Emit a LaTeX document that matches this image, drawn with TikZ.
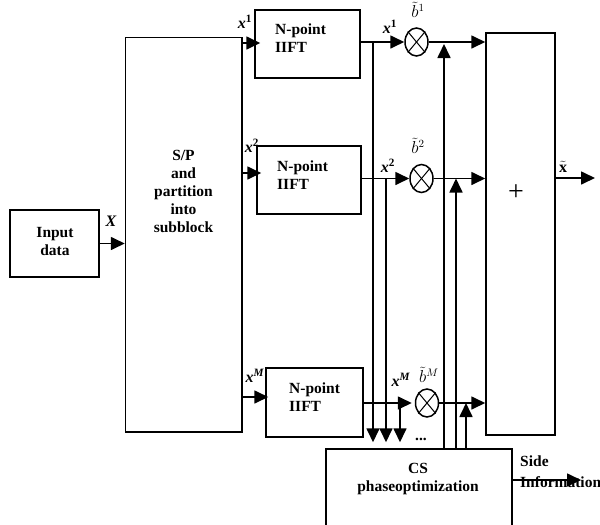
\documentclass[tikz,border=0pt]{standalone}
\usepackage{amsmath}
\usepackage{fontspec}
\setmainfont{Liberation Serif}
\usetikzlibrary{arrows.meta,shapes.geometric}
\newcommand{\vx}[1]{\textbf{\textit{x}}\textsuperscript{\textbf{#1}}}
\newcommand{\vb}[1]{$\tilde{b}^{#1}$}
\begin{document}
\begin{tikzpicture}[x=1pt,y=-1pt,
  box/.style={draw, line width=1.5pt, inner sep=0pt},
  txt/.style={font=\fontsize{15.5}{18}\selectfont\bfseries, inner sep=0pt},
  lab/.style={font=\fontsize{16}{16}\selectfont, inner sep=0pt},
  arr/.style={line width=1.7pt, -{Triangle[length=14pt,width=13pt]}},
  mult/.style={draw, ellipse, line width=1.5pt, minimum width=23pt, minimum height=28pt, inner sep=0pt}]
\clip (0,0) rectangle (600,525);
% blocks
\node[box, minimum width=89pt, minimum height=67pt] (in) at (54.5,243.5) {};
\node[txt, align=center] (intx) at (55,241) {Input\\data};
\node[box, minimum width=116.5pt, minimum height=394.5pt] (sp) at (183.75,234.75) {};
\node[txt, align=center] (sptx) at (183.5,191) {S/P\\and\\partition\\into\\subblock};
\node[box, minimum width=105pt, minimum height=68pt] (f1) at (307.5,44) {};
\node[box, minimum width=104pt, minimum height=68pt] (f2) at (309,180) {};
\node[box, minimum width=97pt, minimum height=69pt] (f3) at (314.5,402.5) {};
\node[txt, align=left, anchor=west] (f1t) at (275,38) {N-point\\IIFT};
\node[txt, align=left, anchor=west] (f2t) at (277,175) {N-point\\IIFT};
\node[txt, align=left, anchor=west] (f3t) at (289,397) {N-point\\IIFT};
\node[box, minimum width=69pt, minimum height=402pt] (pl) at (520.5,234) {};
\node[font=\fontsize{28}{28}\selectfont, inner sep=0pt] (plt) at (516,193) {+};
\node[box, minimum width=186pt, minimum height=100pt] (cs) at (419,499) {};
\node[txt, align=center] (cst) at (418,479) {CS\\phaseoptimization};
% multipliers
\node[mult] (m1) at (416.5,42) {};
\node[mult] (m2) at (421.5,178.5) {};
\node[mult] (m3) at (427,403) {};
\foreach \m in {m1,m2,m3}{
  \draw[line width=1pt] (\m.north west) -- (\m.south east);
  \draw[line width=1pt] (\m.north east) -- (\m.south west);
}
% coordinates
\coordinate (in1) at (242,43);
\coordinate (in2) at (242,173);
\coordinate (in3) at (242,397);
\coordinate (j1) at (373,42);
\coordinate (j2) at (386,178.5);
\coordinate (j3) at (400,403);
\coordinate (u1) at (444,449);
\coordinate (u2) at (456,449);
\coordinate (u3) at (466,449);
\coordinate (xo) at (595,178);
\coordinate (so) at (581,480);
% input arrows
\draw[arr] (in.east) -- (sp.west |- in.east);
\draw[arr, shorten >=-6pt] (in1) -- (f1.west |- in1);
\draw[arr, shorten >=-5pt] (in2) -- (f2.west |- in2);
\draw[arr, shorten >=-3pt] (in3) -- (f3.west |- in3);
% IFFT outputs to multipliers
\draw[arr] (f1.east |- m1.west) -- (m1.west);
\draw[arr] (f2.east |- m2.west) -- (m2.west);
\draw[arr, shorten >=3pt] (f3.east |- m3.west) -- (m3.west);
% multipliers to adder
\draw[arr] (m1.east) -- (pl.west |- m1.east);
\draw[arr] (m2.east) -- (pl.west |- m2.east);
\draw[arr] (m3.east) -- (pl.west |- m3.east);
% down to CS
\draw[arr, shorten >=6pt] (j1) -- (j1 |- cs.north);
\draw[arr, shorten >=6pt] (j2) -- (j2 |- cs.north);
\draw[arr, shorten >=6pt] (j3) -- (j3 |- cs.north);
% up from CS
\draw[arr, shorten >=2pt] (u1) -- (u1 |- m1.east);
\draw[arr] (u2) -- (u2 |- m2.east);
\draw[arr] (u3) -- (u3 |- m3.east);
% output
\draw[arr] (pl.east |- xo) -- (xo);
\node[txt, anchor=west] (side) at (520,461) {Side};
\node[txt, anchor=west] (info) at (520,482) {Information};
\draw[arr] (cs.east |- so) -- (so);
% labels
\node[lab] (lX) at (111,221) {\textbf{\textit{X}}};
\node[lab] (l1a) at (245,22) {\vx{1}};
\node[lab] (l2a) at (252,146) {\vx{2}};
\node[lab] (l3a) at (255,376) {\vx{\textit{M}}};
\node[lab] (l1b) at (390,27) {\vx{1}};
\node[lab] (l2b) at (388,166) {\vx{2}};
\node[lab] (l3b) at (401,380) {\vx{\textit{M}}};
\node[lab] (b1) at (418,10) {\vb{1}};
\node[lab] (b2) at (418,146) {\vb{2}};
\node[lab] (b3) at (429,375) {\vb{M}};
\node[lab] (xt) at (563,167) {$\tilde{\mathbf{x}}$};
\node[txt] (dots) at (421,439) {...};
\end{tikzpicture}
\end{document}
